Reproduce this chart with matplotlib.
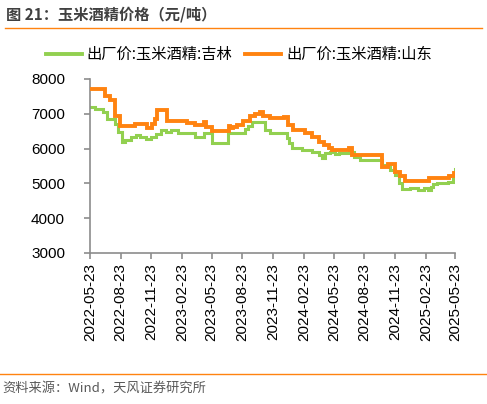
import matplotlib
matplotlib.use("Agg")
import matplotlib.pyplot as plt
import matplotlib.dates as mdates
import pandas as pd
from matplotlib.lines import Line2D

plt.rcParams['font.family'] = ['Noto Sans CJK SC', 'DejaVu Sans']

# ---- data (step changes) ----
jilin_dates = ["2022-05-23", "2022-06-08", "2022-07-02", "2022-07-12", "2022-08-06", "2022-08-16",
               "2022-08-26", "2022-09-06", "2022-09-24", "2022-10-09", "2022-10-21", "2022-11-08",
               "2022-11-23", "2022-12-08", "2022-12-23", "2023-01-07", "2023-01-22", "2023-02-12",
               "2023-04-04", "2023-04-29", "2023-05-25", "2023-07-12", "2023-08-31", "2023-09-09",
               "2023-09-20", "2023-10-30", "2023-11-14", "2024-01-04", "2024-01-10", "2024-01-19",
               "2024-02-18", "2024-03-19", "2024-04-09", "2024-04-18", "2024-04-28", "2024-05-12",
               "2024-05-27", "2024-06-08", "2024-07-08", "2024-07-23", "2024-08-10", "2024-10-15",
               "2024-11-07", "2024-11-22", "2024-12-04", "2024-12-13", "2025-01-06", "2025-01-30",
               "2025-02-17", "2025-03-01", "2025-03-10", "2025-03-16", "2025-03-28", "2025-05-01",
               "2025-05-16", "2025-05-22", "2025-05-23"]
jilin_values = [7200, 7150, 7050, 6860, 6720, 6480,
                6190, 6240, 6330, 6380, 6330, 6270,
                6330, 6430, 6530, 6480, 6530, 6460,
                6330, 6440, 6150, 6440, 6550, 6650,
                6750, 6530, 6440, 6300, 6150, 6010,
                5960, 5910, 5820, 5720, 5860, 5910,
                5840, 5880, 5910, 5770, 5680, 5530,
                5390, 5240, 5000, 4830, 4860, 4810,
                4860, 4810, 4910, 4970, 5000, 5050,
                5190, 5400, 5400]

shandong_dates = ["2022-05-23", "2022-07-07", "2022-07-22", "2022-08-06", "2022-08-21", "2022-10-05",
                  "2022-11-09", "2022-11-24", "2022-12-04", "2022-12-11", "2023-01-08", "2023-03-10",
                  "2023-04-04", "2023-04-29", "2023-05-07", "2023-05-24", "2023-07-13", "2023-07-18",
                  "2023-07-27", "2023-08-07", "2023-08-26", "2023-09-15", "2023-09-30", "2023-10-16",
                  "2023-10-25", "2023-11-14", "2023-12-26", "2024-01-07", "2024-01-22", "2024-02-28",
                  "2024-03-19", "2024-04-08", "2024-04-23", "2024-05-08", "2024-05-18", "2024-07-07",
                  "2024-07-17", "2024-10-16", "2024-11-01", "2024-11-22", "2024-12-08", "2024-12-23",
                  "2025-03-05", "2025-05-03", "2025-05-19", "2025-05-23"]
shandong_values = [7700, 7500, 7400, 6950, 6650, 6700,
                   6600, 6720, 6850, 7100, 6800, 6730,
                   6680, 6750, 6630, 6500, 6650, 6600,
                   6630, 6680, 6800, 6950, 7000, 7050,
                   6950, 6880, 6920, 6680, 6530, 6440,
                   6340, 6200, 6100, 6030, 5960, 6010,
                   5820, 5480, 5560, 5340, 5210, 5080,
                   5150, 5210, 5290, 5290]

series_labels = ["出厂价:玉米酒精:吉林", "出厂价:玉米酒精:山东"]
tick_dates = ["2022-05-23", "2022-08-23", "2022-11-23", "2023-02-23", "2023-05-23", "2023-08-23",
              "2023-11-23", "2024-02-23", "2024-05-23", "2024-08-23", "2024-11-23", "2025-02-23",
              "2025-05-23"]
y_ticks = [3000, 4000, 5000, 6000, 7000, 8000]

title = "图 21：玉米酒精价格（元/吨）"
source = "资料来源：Wind，天风证券研究所"

green = "#92D050"
orange = "#FF8310"
axis_gray = "#8C8C8C"

fig = plt.figure(figsize=(4.87, 4.04), dpi=100)
ax = fig.add_axes([0.1848, 0.3738, 0.7505, 0.4307])

ax.plot(pd.to_datetime(jilin_dates), jilin_values, color=green, lw=2.2,
        drawstyle="steps-post", solid_joinstyle="miter", zorder=2)
ax.plot(pd.to_datetime(shandong_dates), shandong_values, color=orange, lw=2.8,
        drawstyle="steps-post", solid_joinstyle="miter", zorder=3)

ax.set_ylim(3000, 8000)
ax.set_yticks(y_ticks)
ax.set_xlim(pd.Timestamp(tick_dates[0]), pd.Timestamp(tick_dates[-1]))
ax.set_xticks(pd.to_datetime(tick_dates))
ax.xaxis.set_major_formatter(mdates.DateFormatter("%Y-%m-%d"))

for s in ["top", "right"]:
    ax.spines[s].set_visible(False)
for s in ["left", "bottom"]:
    ax.spines[s].set_color(axis_gray)
    ax.spines[s].set_linewidth(1.2)
ax.tick_params(axis="both", colors=axis_gray, length=4, width=1.2, direction="out")
for lab in ax.get_yticklabels():
    lab.set_fontfamily(["Liberation Sans", "DejaVu Sans"])
    lab.set_fontsize(11)
    lab.set_color("black")
for lab in ax.get_xticklabels():
    lab.set_fontfamily(["Liberation Sans", "DejaVu Sans"])
    lab.set_fontsize(11)
    lab.set_color("black")
    lab.set_rotation(90)
ax.tick_params(axis="y", pad=14)

# legend
handles = [Line2D([], [], color=green, lw=2.8), Line2D([], [], color=orange, lw=2.8)]
fig.legend(handles, series_labels, loc="center", bbox_to_anchor=(0.49, 0.865), ncol=2,
           frameon=False, fontsize=11, handlelength=2.4, handletextpad=0.3,
           columnspacing=0.8, borderaxespad=0)

# title and decorations
fig.text(0.012, 0.963, title, fontsize=11, fontweight="bold", color="#404040", va="center", ha="left")
fig.add_artist(Line2D([0.01, 0.99], [0.93, 0.93], color=orange, lw=1.0, transform=fig.transFigure))
fig.add_artist(Line2D([0.0, 1.0], [0.075, 0.075], color=orange, lw=1.0, transform=fig.transFigure))
fig.text(0.005, 0.037, source, fontsize=9.5, color="#595959", va="center", ha="left")

fig.savefig("out.png", dpi=100)
